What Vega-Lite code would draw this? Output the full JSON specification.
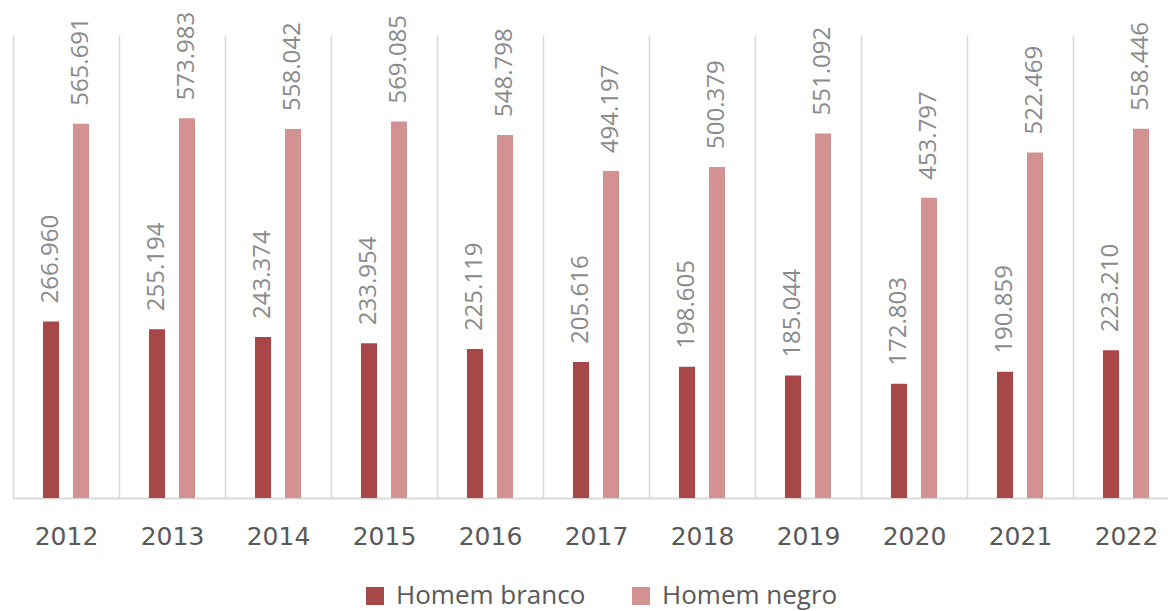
{
  "$schema": "https://vega.github.io/schema/vega-lite/v6.json",
  "autosize": {"type": "none"},
  "width": 1155,
  "height": 463,
  "padding": {"left": 13, "top": 35, "right": 0, "bottom": 113},
  "config": {
    "locale": {"number": {"decimal": ",", "thousands": ".", "grouping": [3], "currency": ["R$", ""]}},
    "view": {"stroke": null},
    "font": "Open Sans"
  },
  "data": {
    "values": [
      {"year": "2012", "series": "Homem branco", "value": 266960},
      {"year": "2012", "series": "Homem negro", "value": 565691},
      {"year": "2013", "series": "Homem branco", "value": 255194},
      {"year": "2013", "series": "Homem negro", "value": 573983},
      {"year": "2014", "series": "Homem branco", "value": 243374},
      {"year": "2014", "series": "Homem negro", "value": 558042},
      {"year": "2015", "series": "Homem branco", "value": 233954},
      {"year": "2015", "series": "Homem negro", "value": 569085},
      {"year": "2016", "series": "Homem branco", "value": 225119},
      {"year": "2016", "series": "Homem negro", "value": 548798},
      {"year": "2017", "series": "Homem branco", "value": 205616},
      {"year": "2017", "series": "Homem negro", "value": 494197},
      {"year": "2018", "series": "Homem branco", "value": 198605},
      {"year": "2018", "series": "Homem negro", "value": 500379},
      {"year": "2019", "series": "Homem branco", "value": 185044},
      {"year": "2019", "series": "Homem negro", "value": 551092},
      {"year": "2020", "series": "Homem branco", "value": 172803},
      {"year": "2020", "series": "Homem negro", "value": 453797},
      {"year": "2021", "series": "Homem branco", "value": 190859},
      {"year": "2021", "series": "Homem negro", "value": 522469},
      {"year": "2022", "series": "Homem branco", "value": 223210},
      {"year": "2022", "series": "Homem negro", "value": 558446}
    ]
  },
  "encoding": {
    "x": {
      "field": "year",
      "type": "nominal",
      "scale": {"range": [0, 1166], "paddingInner": 0, "paddingOuter": 0},
      "axis": {
        "title": null,
        "labelAngle": 0,
        "labelFont": "DejaVu Sans",
        "labelFontSize": 25,
        "labelColor": "#595959",
        "labelBaseline": "middle",
        "labelPadding": 38,
        "ticks": false,
        "tickBand": "extent",
        "grid": true,
        "gridColor": "#d9d9d9",
        "gridWidth": 1.5,
        "domain": true,
        "domainColor": "#d9d9d9",
        "domainWidth": 2
      }
    },
    "xOffset": {
      "field": "series",
      "type": "nominal",
      "scale": {"paddingInner": 0.464, "paddingOuter": 1.125}
    },
    "y": {
      "field": "value",
      "type": "quantitative",
      "scale": {"domain": [0, 700000]},
      "axis": null
    }
  },
  "layer": [
    {
      "mark": {"type": "bar"},
      "encoding": {
        "color": {
          "field": "series",
          "type": "nominal",
          "scale": {"domain": ["Homem branco", "Homem negro"], "range": ["#a84747", "#d39192"]},
          "legend": {
            "title": null,
            "orient": "none",
            "legendX": 349,
            "legendY": 548,
            "direction": "horizontal",
            "padding": 0,
            "symbolType": "square",
            "symbolSize": 324,
            "symbolStrokeWidth": 0,
            "labelFontSize": 26,
            "labelLimit": 400,
            "labelColor": "#595959",
            "labelOffset": 8,
            "columnPadding": 42
          }
        }
      }
    },
    {
      "mark": {"type": "text", "angle": 270, "align": "left", "baseline": "middle", "dx": 18, "fontSize": 24, "color": "#8a8a8a"},
      "encoding": {
        "text": {"field": "value", "type": "quantitative", "format": ",d"}
      }
    }
  ]
}
